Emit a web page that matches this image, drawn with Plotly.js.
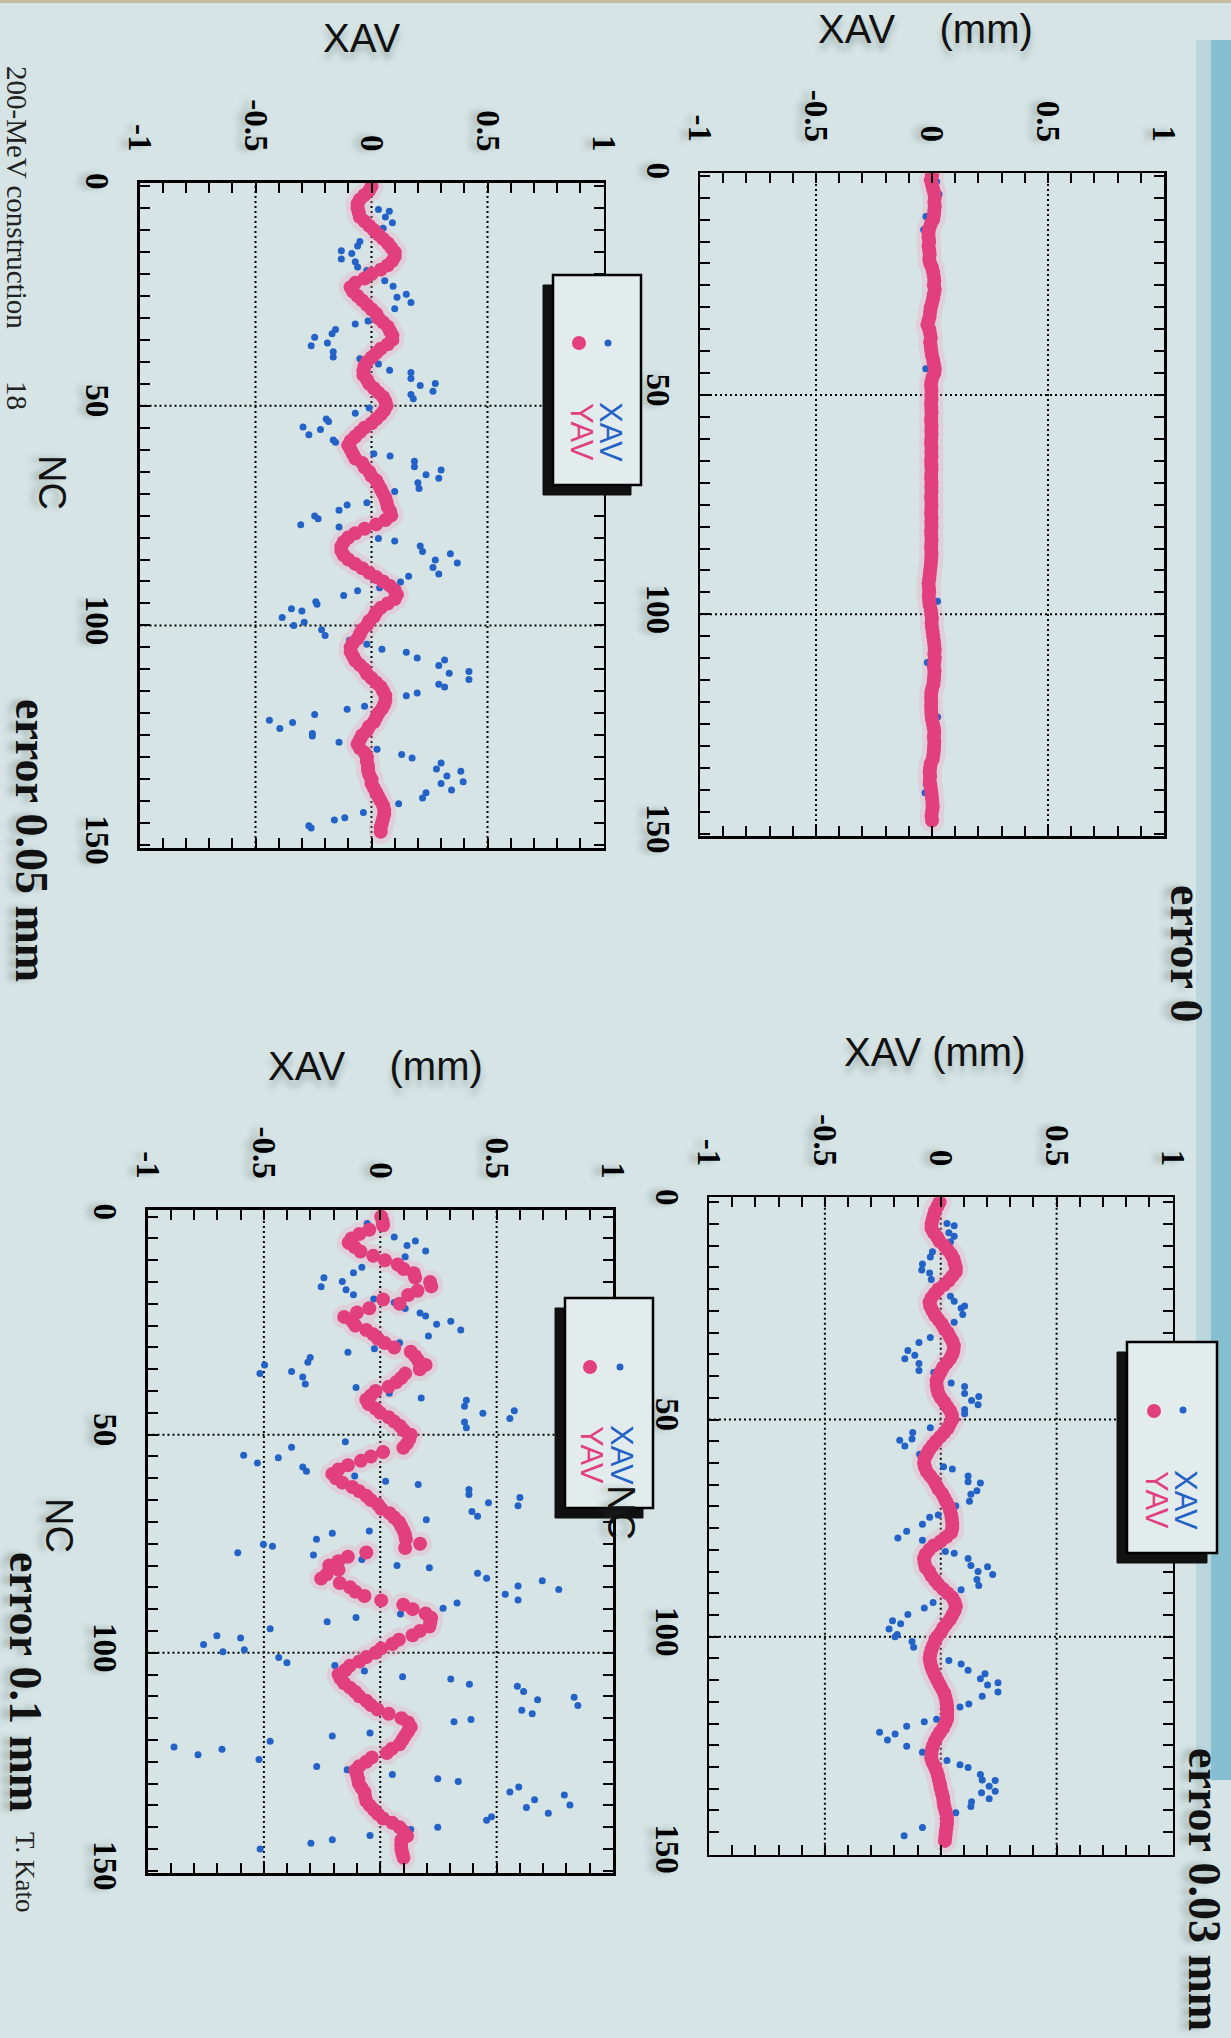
<!DOCTYPE html>
<html><head><meta charset="utf-8">
<script src="https://cdn.plot.ly/plotly-3.0.1.min.js"></script>
<style>html,body{margin:0;padding:0;background:#d6e4e4;}#chart{width:1231px;height:2038px;}</style>
</head><body><div id="chart"></div>
<script>
// ---------------- DATA ----------------
const NC = [0,1,2,3,4,5,6,7,8,9,10,11,12,13,14,15,16,17,18,19,20,21,22,23,24,25,26,27,28,29,
30,31,32,33,34,35,36,37,38,39,40,41,42,43,44,45,46,47,48,49,50,51,52,53,54,55,56,57,58,59,
60,61,62,63,64,65,66,67,68,69,70,71,72,73,74,75,76,77,78,79,80,81,82,83,84,85,86,87,88,89,
90,91,92,93,94,95,96,97,98,99,100,101,102,103,104,105,106,107,108,109,110,111,112,113,114,115,116,117,118,119,
120,121,122,123,124,125,126,127,128,129,130,131,132,133,134,135,136,137,138,139,140,141,142,143,144,145,146,147];

// error 0 (top right)
const YAV_0 = [0,-0.005,0,0.005,0.01,0.012,0.01,0.012,0.01,0.008,
0.005,-0.005,-0.012,-0.015,-0.015,-0.012,-0.015,-0.012,-0.01,-0.012,
-0.008,0,0.005,0.008,0.01,0.008,0.012,0.008,0.005,0,
-0.005,-0.008,-0.01,-0.015,-0.02,-0.012,-0.008,-0.005,-0.008,-0.005,
-0.003,0,0.005,0.008,0.012,0.01,0.002,-0.003,-0.004,-0.002,
-0.003,-0.002,-0.004,-0.003,-0.002,-0.003,-0.004,-0.002,-0.003,-0.002,
-0.003,-0.004,-0.002,-0.003,-0.002,-0.004,-0.003,-0.002,-0.003,-0.004,
-0.002,-0.003,-0.002,-0.004,-0.003,-0.002,-0.003,-0.004,-0.002,-0.003,
-0.002,-0.004,-0.003,-0.002,-0.003,-0.004,-0.002,-0.003,-0.004,-0.006,
-0.008,-0.01,-0.012,-0.015,-0.013,-0.012,-0.014,-0.012,-0.01,-0.005,
-0.003,0,-0.002,0,0.003,0.005,0.008,0.01,0.012,0.01,
0.012,0.01,0.008,0.011,0.009,0.008,0.006,0,-0.003,-0.004,
-0.003,-0.004,-0.003,-0.002,0,0.004,0.008,0.01,0.008,0.01,
0.009,0.008,0.006,0.003,-0.005,-0.008,-0.01,-0.008,-0.01,-0.007,
-0.004,-0.002,0,0.002,0.003,0,-0.002,0];
const XNC_0 = [1.4,4.2,9.3,12.3,44,97,111,123.4,138.7,140.7];
const XAV_0 = [0.02,0.03,-0.026,-0.036,-0.027,0.024,-0.02,0.024,-0.025,-0.03];

// error 0.05 mm (top left)
const YAV_05 = [0,-0.01,-0.03,-0.05,-0.06,-0.06,-0.055,-0.05,-0.03,-0.01,
0.01,0.03,0.05,0.07,0.085,0.1,0.1,0.09,0.07,0.04,
0,-0.03,-0.07,-0.09,-0.08,-0.06,-0.04,-0.02,0,0.02,
0.03,0.05,0.07,0.08,0.09,0.09,0.07,0.04,0.02,0,
-0.02,-0.03,-0.035,-0.035,-0.02,-0.01,0.01,0.03,0.05,0.06,
0.065,0.055,0.04,0.02,0,-0.03,-0.05,-0.07,-0.09,-0.1,
-0.09,-0.08,-0.07,-0.04,-0.03,-0.01,0,0.02,0.03,0.04,
0.05,0.06,0.065,0.07,0.08,0.085,0.06,0.02,-0.03,-0.07,
-0.1,-0.12,-0.13,-0.13,-0.12,-0.1,-0.07,-0.04,-0.01,0.02,
0.05,0.08,0.1,0.11,0.1,0.07,0.04,0.02,0.01,-0.01,
-0.02,-0.04,-0.05,-0.06,-0.08,-0.09,-0.09,-0.08,-0.07,-0.05,
-0.03,-0.02,0,0.02,0.04,0.05,0.06,0.06,0.055,0.045,
0.03,0.02,0.01,-0.01,-0.02,-0.04,-0.05,-0.06,-0.05,-0.03,
-0.02,-0.02,-0.015,-0.015,-0.01,0,0,0.01,0.02,0.03,
0.04,0.05,0.055,0.055,0.05,0.045,0.04,0.04];
const XNC_05 = [1.9,5.3,5.7,7,8.3,9.6,12.6,13.6,14.7,15.3,
16.6,17.2,18.4,19.2,21.5,22.8,24.6,25.3,26.5,27.9,
30.7,31.4,32.6,33.6,34.4,35.7,36.3,37.7,38.9,39.3,
40.5,41.9,42.4,43.8,44.9,45.4,46.7,47.4,48.4,50.5,
51.7,53,53.6,54.8,55.4,56.6,57.8,58.3,60.9,61.4,
62.6,63.9,64.6,65.7,66.5,67.5,68.8,69.5,72.1,72.6,
73.8,75.1,75.7,77.1,77.6,78.5,80.2,80.8,81.9,83.2,
83.7,85.1,85.8,86.8,88.3,88.8,90.1,91.4,92.1,93.2,
94.6,95.2,96.2,96.7,98.2,99.3,100,101,102.3,103.4,
104.3,105.4,106.1,107.4,107.9,109.1,110.5,110.9,112.3,113.4,
114,115.4,116,118.4,119.1,120.3,121.6,122.1,123.5,124.6,
125.2,126.6,128.2,129.4,130.2,131.3,132.7,133.2,134.3,135.6,
136,137.5,138.1,139.3,140.6,141.6,142.6,143.8,144.3,145.6,146.1];
const XAV_05 = [-0.03,0.03,0.077,0.06,0.09,0.05,-0.05,-0.06,-0.13,-0.085,
-0.13,-0.07,-0.06,-0.02,0.057,0.093,0.15,0.11,0.17,0.1,
-0.015,-0.07,-0.155,-0.17,-0.245,-0.19,-0.26,-0.165,-0.165,-0.05,
0.03,0.078,0.17,0.17,0.275,0.21,0.265,0.17,0.18,-0.01,
-0.07,-0.195,-0.185,-0.295,-0.22,-0.27,-0.165,-0.155,0.01,0.08,
0.185,0.185,0.3,0.235,0.29,0.2,0.205,0.1,-0.02,-0.105,
-0.14,-0.245,-0.23,-0.305,-0.14,-0.03,0.03,0.1,0.21,0.22,
0.34,0.275,0.37,0.265,0.29,0.16,0.125,0.035,-0.06,-0.12,
-0.24,-0.235,-0.345,-0.3,-0.385,-0.29,-0.335,-0.215,-0.2,-0.095,
-0.02,0.045,0.15,0.197,0.315,0.29,0.42,0.335,0.42,0.29,
0.315,0.197,0.15,-0.03,-0.105,-0.245,-0.44,-0.34,-0.395,-0.255,
-0.255,-0.14,0.024,0.13,0.175,0.3,0.28,0.385,0.325,0.395,
0.3,0.345,0.235,0.22,0.117,0.05,-0.035,-0.115,-0.16,-0.27,-0.26];

// error 0.03 mm (bottom right)
const YAV_03 = [-0.005,-0.015,-0.025,-0.03,-0.035,-0.04,-0.04,-0.03,-0.015,-0.005,
0.015,0.03,0.045,0.055,0.06,0.065,0.065,0.05,0.035,0.015,
-0.01,-0.025,-0.04,-0.048,-0.045,-0.035,-0.025,-0.01,0.005,0.015,
0.03,0.04,0.05,0.057,0.055,0.05,0.04,0.025,0.01,0,
-0.01,-0.018,-0.018,-0.015,-0.01,0,0.015,0.027,0.04,0.048,
0.05,0.04,0.03,0.015,-0.003,-0.02,-0.035,-0.05,-0.06,-0.07,
-0.072,-0.068,-0.06,-0.045,-0.03,-0.02,-0.01,0.005,0.015,0.025,
0.035,0.04,0.045,0.048,0.05,0.05,0.045,0.025,0,-0.03,
-0.05,-0.065,-0.072,-0.07,-0.065,-0.05,-0.04,-0.025,-0.01,0.01,
0.03,0.05,0.06,0.065,0.06,0.05,0.04,0.025,0.01,0,
-0.015,-0.025,-0.033,-0.04,-0.045,-0.048,-0.045,-0.04,-0.033,-0.025,
-0.015,-0.005,0.005,0.015,0.02,0.025,0.027,0.028,0.028,0.027,
0.02,0.01,-0.003,-0.015,-0.025,-0.033,-0.038,-0.04,-0.041,-0.035,
-0.025,-0.018,-0.012,-0.008,-0.003,0,0.005,0.01,0.012,0.015,
0.02,0.025,0.027,0.027,0.025,0.022,0.02,0.018];
const XNC_03 = [4.9,5.4,7,7.8,9.1,11.4,12.6,14.2,15.6,16.3,
17.8,21.6,22.8,23.9,24.4,25.8,27.6,31.1,32.3,34.1,
35.2,36,37.1,38.7,39.2,41.6,42.4,44,44.7,45.6,
46.6,47.7,48.7,51.9,53,54.5,54.8,56.1,58,60.9,
61.4,63,64.3,64.6,66.4,67.2,68.8,69.9,72,72.5,
74.1,75.7,77.3,77.8,80.4,80.8,82,83.6,83.9,85,
85.7,86.8,88.2,89.2,92.1,93.4,94.9,96.3,97,98.2,
99.5,100,101.1,102.4,105.5,106.3,107.7,108.5,109.7,110.6,
111.1,112.7,113.7,115.5,116.2,119,119.6,120.6,122,122.4,
123.8,125.2,126.6,128.5,129.5,130.1,131.7,133,133.1,134.4,
135.6,135.9,137.3,138,139.1,140.5,143.9,145.8];
const XAV_03 = [0.027,0.058,0.035,0.058,0.042,-0.036,-0.045,-0.079,-0.082,-0.048,
-0.041,0.042,0.058,0.103,0.088,0.095,0.058,-0.045,-0.094,-0.142,
-0.112,-0.155,-0.094,-0.094,-0.03,0.045,0.103,0.103,0.164,0.133,
0.161,0.103,0.103,-0.045,-0.121,-0.124,-0.177,-0.155,-0.091,0.012,
0.05,0.118,0.118,0.171,0.156,0.13,0.124,0.065,-0.011,-0.048,
-0.079,-0.147,-0.185,-0.079,0.02,0.058,0.118,0.13,0.202,0.161,
0.224,0.156,0.164,0.088,-0.033,-0.071,-0.142,-0.208,-0.173,-0.223,
-0.188,-0.197,-0.124,-0.117,0.035,0.088,0.118,0.191,0.171,0.247,
0.202,0.247,0.179,0.121,0.083,-0.018,-0.071,-0.147,-0.264,-0.197,
-0.23,-0.147,-0.079,0.027,0.083,0.118,0.171,0.179,0.235,0.209,
0.235,0.176,0.209,0.133,0.13,0.065,-0.079,-0.158];

// error 0.1 mm (bottom left)
const YAV_1 = [0.004,0.01,0.012,-0.047,-0.09,-0.123,-0.136,-0.11,-0.085,-0.03,
0.02,0.075,0.1,0.144,0.15,0.214,0.219,0.16,0.12,0.012,
0.083,-0.047,-0.1,-0.155,-0.12,-0.107,-0.06,-0.03,-0.01,0.02,
0.06,0.131,0.15,0.163,0.195,0.17,0.107,0.09,0.068,0.036,
-0.02,-0.04,-0.06,-0.05,-0.02,0,0.036,0.06,0.085,0.1,
0.131,0.125,0.115,0.099,0.012,-0.04,-0.083,-0.139,-0.18,-0.206,
-0.19,-0.163,-0.12,-0.09,-0.06,-0.04,-0.01,0.004,0.04,0.06,
0.08,0.09,0.1,0.107,0.11,0.171,0.107,-0.06,-0.139,-0.18,
-0.219,-0.179,-0.23,-0.254,-0.174,-0.13,-0.107,-0.068,0.004,0.099,
0.139,0.195,0.219,0.215,0.211,0.17,0.139,0.08,0.052,0.004,
-0.02,-0.06,-0.09,-0.131,-0.15,-0.179,-0.17,-0.155,-0.13,-0.107,
-0.09,-0.06,-0.04,-0.012,0.036,0.091,0.12,0.131,0.12,0.107,
0.095,0.083,0.05,0.028,-0.036,-0.06,-0.09,-0.107,-0.1,-0.095,
-0.092,-0.08,-0.068,-0.065,-0.06,-0.045,-0.028,-0.01,0.012,0.052,
0.083,0.1,0.115,0.091,0.09,0.091,0.095,0.1];
const XNC_1 = [1.6,4.7,5.6,6.6,7.9,9.2,11.6,12.9,14,14.9,
16.1,16.8,17.9,18.9,19.7,21.1,22.1,22.8,24,24.7,
26,27.4,28.9,30.3,31.1,32.3,33.4,34,35.5,36,
36.8,38.4,39.2,40.5,41.6,42.1,43.5,44.5,45.1,46.3,
47.1,48.4,51.6,52.9,54.7,55.3,56.5,57.4,58.4,59.5,
60.7,61.4,62.6,63.7,64.4,65.6,66.3,67.6,68.7,69.5,
72.1,72.6,74,75.1,75.6,77.1,77.6,78.6,80,80.5,
81.8,82.9,83.5,84.7,85.5,86.6,87.9,88.6,89.8,91.1,
91.9,92.9,94.5,96.1,96.6,98.1,99.3,99.8,101.1,102.3,
102.9,104.2,105.5,106,107.2,107.7,108.9,110.2,110.8,112.1,
113.2,114,115.3,115.8,118.4,119.1,120.3,121.6,122.1,123.4,
124.5,126.1,126.8,127.9,128.9,129.5,130.8,131.9,132.6,133.7,
134.9,135.5,136.8,137.6,138.4,140,140.5,141.9,142.9,143.7,145];
const XAV_1 = [-0.056,0.06,0.151,0.115,0.195,0.107,-0.079,-0.115,-0.242,-0.163,
-0.254,-0.147,-0.115,-0.028,0.06,0.107,0.171,0.195,0.303,0.242,
0.346,0.207,0.083,-0.025,-0.139,-0.301,-0.311,-0.497,-0.381,-0.517,
-0.333,-0.322,-0.104,0.039,0.176,0.37,0.362,0.576,0.441,0.557,
0.362,0.37,-0.15,-0.381,-0.587,-0.438,-0.528,-0.333,-0.317,-0.11,
0.023,0.163,0.381,0.381,0.6,0.465,0.592,0.394,0.418,0.198,
-0.047,-0.206,-0.274,-0.502,-0.463,-0.612,-0.287,-0.079,0.072,0.211,
0.418,0.457,0.696,0.592,0.767,0.537,0.592,0.33,0.27,0.087,
-0.104,-0.228,-0.473,-0.702,-0.6,-0.759,-0.584,-0.676,-0.436,-0.401,
-0.195,-0.068,0.096,0.303,0.383,0.589,0.616,0.833,0.676,0.849,
0.608,0.653,0.39,0.317,-0.044,-0.206,-0.473,-0.886,-0.68,-0.783,
-0.521,-0.273,-0.142,0.052,0.247,0.335,0.595,0.557,0.791,0.663,
0.815,0.628,0.722,0.478,0.457,0.247,0.131,-0.044,-0.206,-0.298,-0.516];

const SERIES_NAMES = ['XAV','YAV'];
const PANEL_LABELS = ['error 0','error 0.05 mm','error 0.03 mm','error 0.1 mm'];

// ---------------- STYLE / LAYOUT ----------------
const W = 1231, H = 2038;
const PX = x => x / W, PY = y => 1 - y / H;
const BLUE = '#2362c6', PINK = '#e23f7e', BG = '#d6e4e5';
const SHADOW = '0px 7px 6px rgba(70,90,90,0.35)';

const panels = [
  {k:'',  box:[700,173,1164,836],       yr:[150.55,-0.62], yav:YAV_0,  xnc:XNC_0,  xav:XAV_0},
  {k:'2', box:[139.5,182.6,603.5,848],  yr:[150.68,-0.82], yav:YAV_05, xnc:XNC_05, xav:XAV_05},
  {k:'3', box:[709,1197.3,1172.5,1854.8],yr:[150.2,-1.15], yav:YAV_03, xnc:XNC_03, xav:XAV_03},
  {k:'4', box:[147.5,1209.7,613,1873],  yr:[150.5,-1.58],  yav:YAV_1,  xnc:XNC_1,  xav:XAV_1}
];

const xTV = [], xTT = [];
for (let i = -10; i <= 10; i++) { xTV.push(i/10); xTT.push(i % 5 === 0 ? String(i/10) : ''); }
const yTV = [], yTT = [];
for (let n = 0; n <= 150; n += 5) { yTV.push(n); yTT.push(n % 50 === 0 ? String(n) : ''); }

const tickFont = {family:'Liberation Serif, Times New Roman, serif', size:33, color:'#000', weight:'bold', shadow:SHADOW};

const layout = {
  width: W, height: H, margin:{l:0,r:0,t:0,b:0,pad:0},
  paper_bgcolor: BG, plot_bgcolor: BG, showlegend:false,
  shapes: [], annotations: []
};
const traces = [];

panels.forEach(p => {
  const [x0,y0,x1,y1] = p.box;
  layout['xaxis'+p.k] = {
    domain:[PX(x0),PX(x1)], anchor:'y'+p.k, range:[-1,1], side:'top',
    tickmode:'array', tickvals:xTV, ticktext:xTT, ticks:'inside', ticklen:10, tickwidth:2, tickcolor:'#000',
    showline:true, mirror:'ticks', linecolor:'#000', linewidth:2.5,
    showgrid:false, zeroline:false, tickangle:90, tickfont:tickFont, ticklabelstandoff:17, fixedrange:true
  };
  layout['yaxis'+p.k] = {
    domain:[PY(y1),PY(y0)], anchor:'x'+p.k, range:p.yr, side:'left',
    tickmode:'array', tickvals:yTV, ticktext:yTT, ticks:'inside', ticklen:10, tickwidth:2, tickcolor:'#000',
    showline:true, mirror:'ticks', linecolor:'#000', linewidth:2.5,
    showgrid:false, zeroline:false, tickangle:90, tickfont:tickFont, ticklabelstandoff:11, fixedrange:true
  };
  const xr = 'x'+p.k, yr = 'y'+p.k;
  [-0.5,0,0.5].forEach(v => layout.shapes.push({type:'line', layer:'below', xref:xr, yref:yr+' domain',
    x0:v, x1:v, y0:0, y1:1, line:{color:'#000', width:2, dash:'2px,3px'}}));
  [50,100].forEach(n => layout.shapes.push({type:'line', layer:'below', xref:xr+' domain', yref:yr,
    x0:0, x1:1, y0:n, y1:n, line:{color:'#000', width:2, dash:'2px,3px'}}));

  traces.push({type:'scatter', mode:'markers', x:p.yav, y:NC, xaxis:xr, yaxis:yr, opacity:0.3,
    marker:{size:24, color:'#f1a5c0'}, hoverinfo:'skip'});
  traces.push({type:'scatter', mode:'markers', name:SERIES_NAMES[0], x:p.xav, y:p.xnc, xaxis:xr, yaxis:yr,
    marker:{size:7, color:BLUE}});
  traces.push({type:'scatter', mode:'markers', name:SERIES_NAMES[1], x:p.yav, y:NC, xaxis:xr, yaxis:yr,
    marker:{size:14, color:PINK}});
});

// page decorations
layout.shapes.push({type:'rect', xref:'paper', yref:'paper', x0:PX(0), x1:PX(W), y0:PY(3), y1:PY(0), fillcolor:'#c4bb9f', line:{width:0}, layer:'below'});
layout.shapes.push({type:'rect', xref:'paper', yref:'paper', x0:PX(1196), x1:PX(1211), y0:PY(1780), y1:PY(40), fillcolor:'rgba(90,170,195,0.22)', line:{width:0}, layer:'below'});
layout.shapes.push({type:'rect', xref:'paper', yref:'paper', x0:PX(1211), x1:PX(W), y0:PY(1780), y1:PY(40), fillcolor:'rgba(70,160,190,0.55)', line:{width:0}, layer:'below'});

// legends (drawn with shapes + rotated texts)
const legends = [
  {main:[553,275,641,485], blue:[608,343], pink:[579,343], tx:[610,581], ty:432},
  {main:[1127,1342,1217,1553], blue:[1183,1410], pink:[1154,1411], tx:[1186,1157], ty:1500},
  {main:[565,1298,653,1508], blue:[620,1367], pink:[590,1367], tx:[622,592], ty:1455}
];
const sansFont = 'Liberation Sans, Arial, Helvetica, sans-serif';
legends.forEach(L => {
  const [a,b,c,d] = L.main;
  layout.shapes.push({type:'rect', xref:'paper', yref:'paper', x0:PX(a-10), x1:PX(c-10), y0:PY(d+10), y1:PY(b+10), fillcolor:'#111', line:{color:'#111', width:1}});
  layout.shapes.push({type:'rect', xref:'paper', yref:'paper', x0:PX(a), x1:PX(c), y0:PY(d), y1:PY(b), fillcolor:'#e3ecec', line:{color:'#000', width:2.5}});
  const circ = (cx,cy,r,col) => ({type:'circle', xref:'paper', yref:'paper', x0:PX(cx-r), x1:PX(cx+r), y0:PY(cy+r), y1:PY(cy-r), fillcolor:col, line:{width:0}});
  layout.shapes.push(circ(L.blue[0], L.blue[1], 3.5, BLUE));
  layout.shapes.push(circ(L.pink[0], L.pink[1], 7, PINK));
  layout.annotations.push({xref:'paper', yref:'paper', x:PX(L.tx[0]), y:PY(L.ty), text:SERIES_NAMES[0], textangle:90, showarrow:false, xanchor:'center', yanchor:'middle', font:{family:sansFont, size:31, color:BLUE}});
  layout.annotations.push({xref:'paper', yref:'paper', x:PX(L.tx[1]), y:PY(L.ty), text:SERIES_NAMES[1], textangle:90, showarrow:false, xanchor:'center', yanchor:'middle', font:{family:sansFont, size:31, color:PINK}});
});

function ann(text, x, y, font, angle) {
  layout.annotations.push({xref:'paper', yref:'paper', x:PX(x), y:PY(y), text:text, textangle:angle||0,
    showarrow:false, xanchor:'center', yanchor:'middle', font:font});
}
const titleFont = {family:sansFont, size:40, color:'#111', shadow:SHADOW};
const nb = '\u00a0';
ann('XAV'+nb+nb+nb+nb+'(mm)', 926, 29, titleFont);
ann('XAV', 361, 38, titleFont);
ann('XAV'+nb+'(mm)', 934, 1052, titleFont);
ann('XAV'+nb+nb+nb+nb+'(mm)', 375, 1066, titleFont);

const ncFont = {family:sansFont, size:38, color:'#111', shadow:SHADOW};
ann('NC', 52, 482, ncFont, 90);
ann('NC', 59, 1525, ncFont, 90);
ann('NC', 621, 1512, ncFont, 90);

const errFont = {family:'Liberation Serif, Times New Roman, serif', size:46, color:'#111', weight:'bold', shadow:SHADOW};
ann(PANEL_LABELS[0], 1186, 954, errFont, 90);
ann(PANEL_LABELS[1], 32, 840, errFont, 90);
ann(PANEL_LABELS[2], 1205, 1889, errFont, 90);
ann(PANEL_LABELS[3], 26, 1682, errFont, 90);
const smallSerif = {family:'Liberation Serif, Times New Roman, serif', size:29, color:'#222'};
ann('T. Kato', 25, 1872, {family:smallSerif.family, size:27, color:'#222'}, 90);
ann('200-MeV construction', 17, 197, smallSerif, 90);
ann('18', 17, 395, smallSerif, 90);

Plotly.newPlot('chart', traces, layout, {displayModeBar:false, staticPlot:true});
</script>
</body></html>
